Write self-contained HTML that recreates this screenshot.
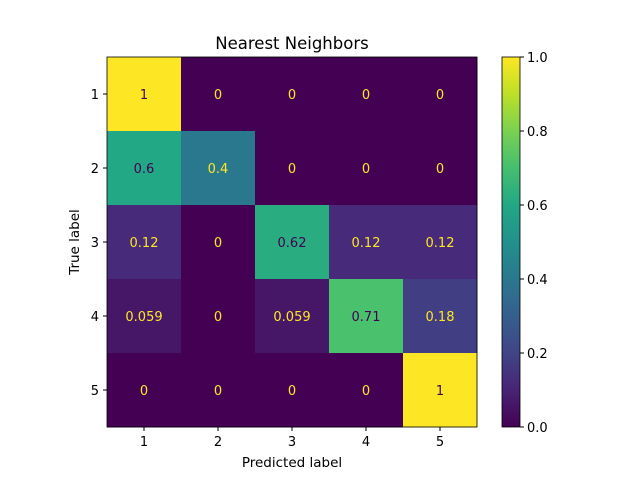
<!DOCTYPE html>
<html><head><meta charset="utf-8"><style>
body{margin:0;background:#fff;}
svg text{font-family:"DejaVu Sans","Liberation Sans",sans-serif;}
</style></head><body>
<svg width="640" height="480" xmlns="http://www.w3.org/2000/svg">
<defs><linearGradient id="vir" x1="0" y1="1" x2="0" y2="0">
<stop offset="0" stop-color="#440154"/><stop offset="0.1" stop-color="#482475"/><stop offset="0.2" stop-color="#414487"/><stop offset="0.3" stop-color="#355f8d"/><stop offset="0.4" stop-color="#2a788e"/><stop offset="0.5" stop-color="#21918c"/><stop offset="0.6" stop-color="#22a884"/><stop offset="0.7" stop-color="#44bf70"/><stop offset="0.8" stop-color="#7ad151"/><stop offset="0.9" stop-color="#bddf26"/><stop offset="1" stop-color="#fde725"/>
</linearGradient></defs>
<g id="cells"></g>
<text x="292" y="49" font-size="16.5" text-anchor="middle">Nearest Neighbors</text>
<text x="292" y="467" font-size="13.5" text-anchor="middle">Predicted label</text>
<text x="79" y="242" font-size="13.5" text-anchor="middle" transform="rotate(-90 79 242)">True label</text>
<rect x="502" y="57" width="18" height="370" fill="url(#vir)" stroke="#000" stroke-width="0.8"/>
<g id="cbticks"></g>
</svg>
<script>
const categories=["1","2","3","4","5"];
const values=[[1,0,0,0,0],[0.6,0.4,0,0,0],[0.12,0,0.62,0.12,0.12],[0.059,0,0.059,0.71,0.18],[0,0,0,0,1]];
const labels=[["1","0","0","0","0"],["0.6","0.4","0","0","0"],["0.12","0","0.62","0.12","0.12"],["0.059","0","0.059","0.71","0.18"],["0","0","0","0","1"]];
const cbTicks=["0.0","0.2","0.4","0.6","0.8","1.0"];
const stops=[[68,1,84],[72,36,117],[65,68,135],[53,95,141],[42,120,142],[33,145,140],[34,168,132],[68,191,112],[122,209,81],[189,223,38],[253,231,37]];
function vir(v){const t=Math.max(0,Math.min(1,v))*10,i=Math.min(9,Math.floor(t)),f=t-i;const c=stops[i].map((a,k)=>Math.round(a+(stops[i+1][k]-a)*f));return `rgb(${c})`;}
const NS="http://www.w3.org/2000/svg";
const x0=107,y0=57,W=370,H=370,n=categories.length,cw=W/n,ch=H/n;
const xs=i=>x0+i*cw, ys=j=>y0+j*ch;
const g=document.getElementById('cells');
function mk(t,a,p){const e=document.createElementNS(NS,t);for(const k in a)e.setAttribute(k,a[k]);p.appendChild(e);return e;}
values.forEach((row,r)=>row.forEach((v,c)=>{
 const rc=mk('rect',{x:xs(c),y:ys(r),width:cw+0.5,height:ch+0.5,fill:vir(v)},g);
 
 
 const t=mk('text',{x:xs(c)+cw/2,y:ys(r)+ch/2+5,'font-size':13,'text-anchor':'middle',fill:v<0.5?'#fde725':'#440154'},g);
 t.textContent=labels[r][c];
 
 
}));
mk('rect',{x:x0,y:y0,width:W,height:H,fill:'none',stroke:'#000','stroke-width':0.8},g);
categories.forEach((c,i)=>{
 mk('line',{x1:xs(i)+cw/2,x2:xs(i)+cw/2,y1:y0+H,y2:y0+H+4,stroke:'#000'},g);
 const t=mk('text',{x:xs(i)+cw/2,y:y0+H+19,'font-size':13,'text-anchor':'middle'},g);t.textContent=c;
 
 
 mk('line',{x1:x0-4,x2:x0,y1:ys(i)+ch/2,y2:ys(i)+ch/2,stroke:'#000'},g);
 const u=mk('text',{x:x0-8,y:ys(i)+ch/2+5,'font-size':13,'text-anchor':'end'},g);u.textContent=c;
 
 
});
const cb=document.getElementById('cbticks');
cbTicks.forEach(s=>{const y=427-parseFloat(s)*370;
 mk('line',{x1:520,x2:524,y1:y,y2:y,stroke:'#000'},cb);
 const t=mk('text',{x:527,y:y+5,'font-size':13},cb);t.textContent=s;
 
 
});
</script>
</body></html>
